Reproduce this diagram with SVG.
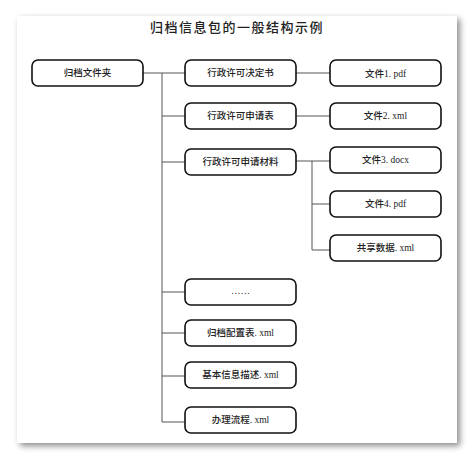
<svg xmlns="http://www.w3.org/2000/svg" width="474" height="460" viewBox="0 0 474 460">
<defs>
<filter id="sh" x="-5%" y="-5%" width="115%" height="115%">
<feDropShadow dx="3" dy="3" stdDeviation="3" flood-color="#000" flood-opacity="0.45"/>
</filter>
</defs>
<style>
.box{fill:#fff;stroke:#111;stroke-width:1.6}
.t{font-family:"Liberation Serif","Noto Sans CJK SC",serif;font-size:9.5px;font-weight:500;fill:#222;text-anchor:middle;dominant-baseline:central}
.c{fill:none;stroke:#555;stroke-width:1}
.title{font-family:"Noto Sans CJK SC",sans-serif;font-size:13px;font-weight:500;fill:#222;text-anchor:middle;letter-spacing:1.5px}
</style>
<rect width="474" height="460" fill="#fff"/>
<rect x="17" y="16" width="440" height="427" fill="#fff" filter="url(#sh)"/>
<text class="title" x="237" y="32">归档信息包的一般结构示例</text>
<g id="connectors">
<path class="c" d="M143,73H185M162,73V422H185M162,116H185M162,162H185M162,292H185M162,333H185M162,376H185"/>
<path class="c" d="M296,73H330M296,116H330M296,161H330M312,161V250H330M312,204H330"/>
</g>
<g id="root"><rect class="box" x="32" y="60" width="111" height="26" rx="6"/><text class="t" x="87.5" y="73">归档文件夹</text></g>
<g id="n1"><rect class="box" x="185" y="60" width="111" height="26" rx="6"/><text class="t" x="240.5" y="73">行政许可决定书</text></g>
<g id="n2"><rect class="box" x="185" y="103" width="111" height="26" rx="6"/><text class="t" x="240.5" y="116">行政许可申请表</text></g>
<g id="n3"><rect class="box" x="185" y="149" width="111" height="26" rx="6"/><text class="t" x="240.5" y="162">行政许可申请材料</text></g>
<g id="n4"><rect class="box" x="185" y="279" width="111" height="26" rx="6"/><text class="t" x="240.5" y="291">……</text></g>
<g id="n5"><rect class="box" x="185" y="320" width="111" height="26" rx="6"/><text class="t" x="240.5" y="333">归档配置表. xml</text></g>
<g id="n6"><rect class="box" x="185" y="362" width="111" height="26" rx="6"/><text class="t" x="240.5" y="375">基本信息描述. xml</text></g>
<g id="n7"><rect class="box" x="185" y="407" width="111" height="26" rx="6"/><text class="t" x="240.5" y="420">办理流程. xml</text></g>
<g id="f1"><rect class="box" x="330" y="60" width="111" height="26" rx="6"/><text class="t" x="385.5" y="74">文件1. pdf</text></g>
<g id="f2"><rect class="box" x="330" y="103" width="111" height="26" rx="6"/><text class="t" x="385.5" y="116">文件2. xml</text></g>
<g id="f3"><rect class="box" x="330" y="147" width="111" height="26" rx="6"/><text class="t" x="385.5" y="160">文件3. docx</text></g>
<g id="f4"><rect class="box" x="330" y="191" width="111" height="26" rx="6"/><text class="t" x="385.5" y="204">文件4. pdf</text></g>
<g id="f5"><rect class="box" x="330" y="235" width="111" height="26" rx="6"/><text class="t" x="385.5" y="248">共享数据. xml</text></g>
</svg>
